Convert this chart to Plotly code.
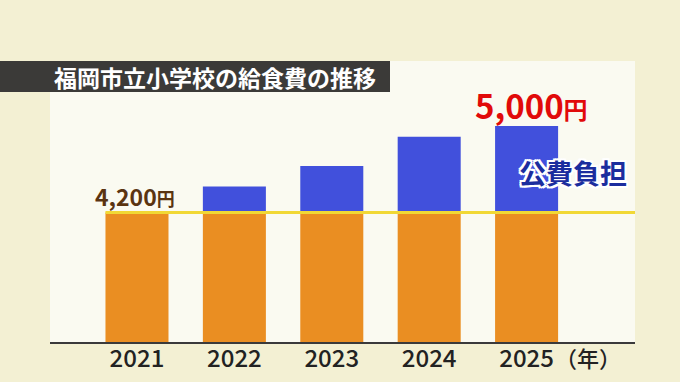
import plotly.graph_objects as go

# ---- data ----
years = [2021, 2022, 2023, 2024, 2025]
year_labels = ["2021", "2022", "2023", "2024", "2025"]
household_fee = [4200, 4200, 4200, 4200, 4200]      # 保護者負担 (orange)
total_cost = [4200, 4440, 4630, 4900, 5000]         # 給食費 total
public_share = [t - h for t, h in zip(total_cost, household_fee)]  # 公費負担 (blue)

title_text = "福岡市立小学校の給食費の推移"
base_label = "4,200"
top_label = "5,000"
public_label = "公費負担"
unit_label = "（年）"

FONT = "Noto Sans CJK JP"

fig = go.Figure()
fig.add_trace(go.Bar(
    x=years, y=household_fee, marker=dict(color="#ea8e22", line=dict(width=0)),
    width=0.647, hoverinfo="skip"))
fig.add_trace(go.Bar(
    x=years, y=public_share, base=household_fee,
    marker=dict(color="#4150dc", line=dict(width=0)),
    width=0.647, hoverinfo="skip"))

# plot area: x 50..635 px, y 61..342 px
W, H = 680, 382
ml, mr, mt, mb = 50, 45, 61, 40
pw = W - ml - mr
ph = H - mt - mb

fig.update_layout(
    width=W, height=H,
    margin=dict(l=ml, r=mr, t=mt, b=mb),
    paper_bgcolor="#f3f0d3",
    plot_bgcolor="#fafaf1",
    barmode="overlay",
    showlegend=False,
    font=dict(family=FONT, color="#222222"),
    xaxis=dict(
        range=[years[0] - 0.893, years[0] + 5.113],
        tickvals=years, ticktext=year_labels,
        tickfont=dict(family=FONT, size=24, color="#222222", weight=500),
        showgrid=False, zeroline=False,
        showline=True, linecolor="#3a3a3a", linewidth=2,
        ticks="", ticklabelstandoff=-6, automargin=False,
    ),
    yaxis=dict(
        range=[3000, 3000 + ph / 0.108],
        showgrid=False, zeroline=False, showticklabels=False,
        showline=False, automargin=False,
    ),
)

# yellow reference line at household fee level
fig.add_shape(type="line", xref="x", yref="y",
              x0=years[0] - 0.3235, x1=years[0] + 5.125,
              y0=household_fee[0], y1=household_fee[0],
              line=dict(color="#f1d835", width=3), layer="above")

# title bar
fig.add_shape(type="rect", xref="paper", yref="paper",
              x0=-ml / pw, x1=(390 - ml) / pw,
              y0=1 - (92 - mt) / ph, y1=1.0,
              fillcolor="#3b3a38", line=dict(width=0), layer="above")
fig.add_annotation(xref="paper", yref="paper",
                   x=(52 - ml) / pw, y=1 - (77 - mt) / ph,
                   xanchor="left", yanchor="middle", showarrow=False,
                   text=title_text,
                   font=dict(family=FONT, size=23, color="#ffffff", weight="bold"))

# value labels
fig.add_annotation(x=years[0] - 0.02, y=household_fee[0], yshift=16, xref="x", yref="y",
                   showarrow=False, xanchor="center", yanchor="middle",
                   text=base_label + "<span style='font-size:18px'>円</span>",
                   font=dict(family=FONT, size=23, color="#5a3411", weight="bold"))
fig.add_annotation(x=years[4] + 0.05, y=total_cost[4], yshift=21, xref="x", yref="y",
                   showarrow=False, xanchor="center", yanchor="middle",
                   text=top_label + "<span style='font-size:24px'>円</span>",
                   font=dict(family=FONT, size=33, color="#e10a0a", weight="bold"))

# 公費負担 with white outline via text-shadow
outline = ",".join(f"{dx}px {dy}px 0 #ffffff" for dx, dy in
                   [(-2, -2), (2, -2), (-2, 2), (2, 2), (0, 2), (0, -2), (2, 0), (-2, 0)])
fig.add_annotation(x=years[4] + 0.475, y=4565, xref="x", yref="y",
                   showarrow=False, xanchor="center", yanchor="middle",
                   text=public_label,
                   font=dict(family=FONT, size=27, color="#1b2d9e", weight="bold",
                             shadow=outline))

# (年) unit label
fig.add_annotation(xref="x", yref="paper", x=years[4] + 0.635, y=0, yshift=-15,
                   showarrow=False, xanchor="center", yanchor="middle",
                   text=unit_label,
                   font=dict(family=FONT, size=22, color="#222222", weight=500))

fig.write_html("out.html",
               config={"displayModeBar": False},
               post_script="document.body.style.margin='0';document.body.style.padding='0';")
